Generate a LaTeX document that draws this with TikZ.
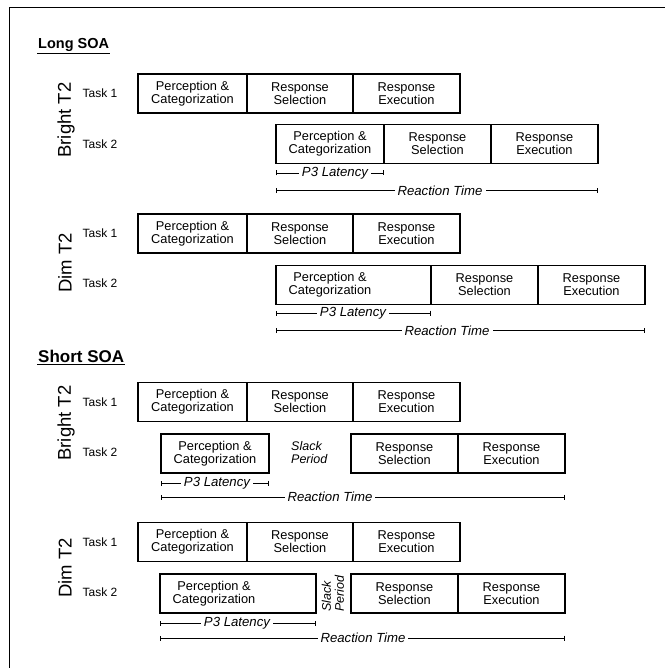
\documentclass[tikz,border=0pt]{standalone}
\usepackage{fontspec}
\setmainfont{Liberation Sans}
\usetikzlibrary{arrows.meta}
\begin{document}
\begin{tikzpicture}[x=1pt,y=-1pt,
  stage/.style={draw, line width=1.5pt, inner sep=0pt, align=center,
    font=\fontsize{12.8}{13}\selectfont, minimum height=39pt},
  bw/.style={minimum width=#1},
  stagetext/.style={inner sep=0pt, align=center, font=\fontsize{12.8}{13}\selectfont},
  tasklbl/.style={font=\fontsize{12}{14}\selectfont, inner sep=0pt},
  condlbl/.style={font=\fontsize{18.5}{20}\selectfont, rotate=90, inner sep=0pt},
  meas/.style={line width=0.6pt, {Bar[width=5pt,line width=0.7pt]}-{Bar[width=5pt,line width=0.7pt]}},
  measlbl/.style={font=\itshape\fontsize{13.2}{15}\selectfont, fill=white, inner xsep=3pt, inner ysep=0pt},
  slack/.style={font=\itshape\fontsize{12.5}{13}\selectfont, inner sep=0pt},
  title/.style={font=\bfseries\fontsize{14.5}{17}\selectfont, inner sep=1pt, anchor=west},
  ]
\useasboundingbox (0,0) rectangle (665,668);
\draw[line width=1.3pt] (9.5,668) -- (9.5,7.5) -- (665,7.5);

% ---------- Long SOA ----------
\node[title] (tlong) at (37,45) {Long SOA};
\draw[line width=1.2pt] ([yshift=-1pt]tlong.south west) -- ([yshift=-1pt]tlong.south east);

% Bright T2
\node[condlbl] (c1) at (66,120) {Bright T2};
\node[tasklbl] (c1t1) at (100,93) {Task 1};
\node[tasklbl] (c1t2) at (100,144) {Task 2};
\node[stage,bw=109pt] (a1) at (192.5,93.3) {Perception \&\\Categorization};
\node[stage,bw=106pt] (a2) at (300,93.3) {Response\\Selection};
\node[stage,bw=107pt] (a3) at (406.5,93.3) {Response\\Execution};
\node[stage,bw=108pt] (b1) at (330,144) {Perception \&\\Categorization};
\node[stage,bw=107pt] (b2) at (437.5,144) {Response\\Selection};
\node[stage,bw=107pt] (b3) at (544.5,144) {Response\\Execution};
\coordinate (p1a) at (276,173); \coordinate (p1b) at (384,173);
\draw[meas] (p1a) -- (p1b);
\node[measlbl] (p1l) at (335,173) {P3 Latency};
\coordinate (r1a) at (276,190.7); \coordinate (r1b) at (598,190.7);
\draw[meas] (r1a) -- (r1b);
\node[measlbl] (r1l) at (440,190.7) {Reaction Time};

% Dim T2
\node[condlbl] (c2) at (65,263) {Dim T2};
\node[tasklbl] (c2t1) at (100,233) {Task 1};
\node[tasklbl] (c2t2) at (100,283) {Task 2};
\node[stage,bw=109pt] (d1) at (192.5,233.3) {Perception \&\\Categorization};
\node[stage,bw=106pt] (d2) at (300,233.3) {Response\\Selection};
\node[stage,bw=107pt] (d3) at (406.5,233.3) {Response\\Execution};
\node[stage,bw=155pt] (e1) at (353.5,285) {};
\node[stagetext] (e1t) at (330,285) {Perception \&\\Categorization};
\node[stage,bw=107pt] (e2) at (484.5,285) {Response\\Selection};
\node[stage,bw=107pt] (e3) at (591.5,285) {Response\\Execution};
\coordinate (p2a) at (276,313); \coordinate (p2b) at (431,313);
\draw[meas] (p2a) -- (p2b);
\node[measlbl] (p2l) at (353,313) {P3 Latency};
\coordinate (r2a) at (276,330.7); \coordinate (r2b) at (645,330.7);
\draw[meas] (r2a) -- (r2b);
\node[measlbl] (r2l) at (447,330.7) {Reaction Time};

% ---------- Short SOA ----------
\node[title, font=\bfseries\fontsize{17}{19}\selectfont] (tshort) at (37,356) {Short SOA};
\draw[line width=1.2pt] ([yshift=-1pt]tshort.south west) -- ([yshift=-1pt]tshort.south east);

% Bright T2
\node[condlbl] (c3) at (66,423) {Bright T2};
\node[tasklbl] (c3t1) at (100,402) {Task 1};
\node[tasklbl] (c3t2) at (100,452) {Task 2};
\node[stage,bw=109pt] (f1) at (192.5,402) {Perception \&\\Categorization};
\node[stage,bw=106pt] (f2) at (300,402) {Response\\Selection};
\node[stage,bw=107pt] (f3) at (406.5,402) {Response\\Execution};
\node[stage,bw=108pt] (g1) at (215,453.5) {Perception \&\\Categorization};
\node[slack, anchor=west, align=left] (g0) at (291,452.5) {Slack\\Period};
\node[stage,bw=107pt] (g2) at (404.5,453.5) {Response\\Selection};
\node[stage,bw=107pt] (g3) at (511.5,453.5) {Response\\Execution};
\coordinate (p3a) at (161,483); \coordinate (p3b) at (269,483);
\draw[meas] (p3a) -- (p3b);
\node[measlbl] (p3l) at (217,483) {P3 Latency};
\coordinate (r3a) at (161,497); \coordinate (r3b) at (565,497);
\draw[meas] (r3a) -- (r3b);
\node[measlbl] (r3l) at (330,497) {Reaction Time};

% Dim T2
\node[condlbl] (c4) at (65,568) {Dim T2};
\node[tasklbl] (c4t1) at (100,542) {Task 1};
\node[tasklbl] (c4t2) at (100,592) {Task 2};
\node[stage,bw=109pt] (h1) at (192.5,542) {Perception \&\\Categorization};
\node[stage,bw=106pt] (h2) at (300,542) {Response\\Selection};
\node[stage,bw=107pt] (h3) at (406.5,542) {Response\\Execution};
\node[stage,bw=156pt] (k1) at (238,593.5) {};
\node[stagetext] (k1t) at (214,593.5) {Perception \&\\Categorization};
\node[slack, rotate=90, anchor=west, align=left] (k0) at (333,612) {Slack\\Period};
\node[stage,bw=107pt] (k2) at (404.5,593.5) {Response\\Selection};
\node[stage,bw=107pt] (k3) at (511.5,593.5) {Response\\Execution};
\coordinate (p4a) at (160,623.3); \coordinate (p4b) at (316,623.3);
\draw[meas] (p4a) -- (p4b);
\node[measlbl] (p4l) at (237,623.3) {P3 Latency};
\coordinate (r4a) at (160,638); \coordinate (r4b) at (565,638);
\draw[meas] (r4a) -- (r4b);
\node[measlbl] (r4l) at (363,638) {Reaction Time};
\end{tikzpicture}
\end{document}
